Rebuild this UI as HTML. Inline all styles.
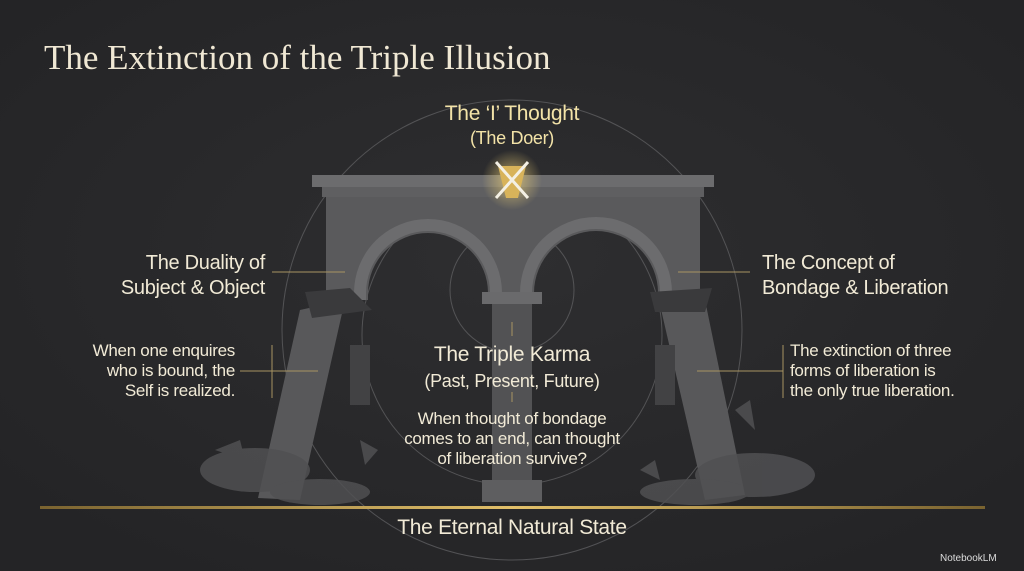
<!DOCTYPE html>
<html><head><style>
html,body{margin:0;padding:0;background:#29292b;}
body{width:1024px;height:571px;position:relative;overflow:hidden;font-family:"Liberation Sans",sans-serif;}
.t{position:absolute;color:#f1ead6;letter-spacing:-0.3px;}
</style></head><body>
<svg width="1024" height="571" style="position:absolute;left:0;top:0">
<defs>
<radialGradient id="bg" cx="50%" cy="45%" r="65%"><stop offset="0" stop-color="#2e2e30"/><stop offset="1" stop-color="#242426"/></radialGradient>
<linearGradient id="gold" x1="0" x2="1"><stop offset="0" stop-color="#7a6330"/><stop offset=".5" stop-color="#e2c06a"/><stop offset="1" stop-color="#7a6330"/></linearGradient>
<radialGradient id="glow"><stop offset="0" stop-color="#f5d77a" stop-opacity=".7"/><stop offset="1" stop-color="#f5d77a" stop-opacity="0"/></radialGradient>
</defs>
<rect width="1024" height="571" fill="url(#bg)"/>
<g fill="none" stroke="#5e5e60" stroke-width="1" opacity=".8">
<circle cx="512" cy="330" r="230"/>
<circle cx="512" cy="335" r="150"/>
<circle cx="512" cy="290" r="62"/>
</g>
<path fill-rule="evenodd" fill="#5a5a5c" d="M326 186 H700 V300 H326 Z M368 300 V293 A60 60 0 0 1 488 293 V300 Z M534 300 V293 A62 62 0 0 1 658 293 V300 Z"/>
<path d="M360 300 V293 A68 68 0 0 1 496 293 V300" stroke="#6c6c6e" stroke-width="12" fill="none"/>
<path d="M526 300 V293 A70 70 0 0 1 666 293 V300" stroke="#6c6c6e" stroke-width="12" fill="none"/>
<rect x="312" y="175" width="402" height="12" fill="#6c6c6e"/>
<rect x="322" y="187" width="382" height="10" fill="#5f5f61"/>
<rect x="482" y="292" width="60" height="12" fill="#6a6a6c"/>
<rect x="492" y="304" width="40" height="180" fill="#525254"/>
<rect x="482" y="480" width="60" height="22" fill="#5e5e60"/>
<polygon points="300,310 345,300 300,500 258,498" fill="#58585a"/>
<polygon points="305,292 350,288 372,310 312,318" fill="#3a3a3c"/>
<rect x="350" y="345" width="20" height="60" fill="#424244"/>
<polygon points="660,305 705,300 745,495 705,500" fill="#58585a"/>
<polygon points="650,292 712,288 705,312 655,312" fill="#3a3a3c"/>
<rect x="655" y="345" width="20" height="60" fill="#424244"/>
<g fill="#505052" opacity=".85">
<ellipse cx="255" cy="470" rx="55" ry="22"/><ellipse cx="320" cy="492" rx="50" ry="13"/>
<ellipse cx="755" cy="475" rx="60" ry="22"/><ellipse cx="695" cy="492" rx="55" ry="13"/>
<polygon points="215,450 240,440 245,460"/><polygon points="360,440 378,450 365,465"/>
<polygon points="735,410 750,400 755,430"/><polygon points="640,470 655,460 660,480"/>
</g>
<circle cx="512" cy="180" r="30" fill="url(#glow)"/>
<polygon points="498,166 526,166 518,198 506,198" fill="#d8b35a"/>
<path d="M496 162 L528 198 M528 162 L496 198" stroke="#f4f0e4" stroke-width="3"/>
<g stroke="#a89462" stroke-width="1">
<line x1="272" y1="272" x2="345" y2="272"/>
<line x1="678" y1="272" x2="750" y2="272"/>
<line x1="240" y1="371" x2="318" y2="371"/><line x1="272" y1="345" x2="272" y2="398"/>
<line x1="697" y1="371" x2="783" y2="371"/><line x1="783" y1="345" x2="783" y2="398"/>
<line x1="512" y1="322" x2="512" y2="336"/><line x1="512" y1="392" x2="512" y2="402"/>
</g>
<rect x="40" y="506" width="945" height="3" fill="url(#gold)"/>
</svg>
<div class="t" style="left:44px;top:38px;font-family:'Liberation Serif',serif;font-size:35px;color:#f0e8d4;letter-spacing:0">The Extinction of the Triple Illusion</div>
<div class="t" style="left:402px;top:102px;width:220px;text-align:center;font-size:21px;color:#f3e3a8;line-height:24px">The ‘I’ Thought<br><span style="font-size:18px">(The Doer)</span></div>
<div class="t" style="left:80px;top:251px;width:185px;text-align:right;font-size:20px;line-height:25px">The Duality of<br>Subject &amp; Object</div>
<div class="t" style="left:762px;top:251px;width:240px;font-size:20px;line-height:25px">The Concept of<br>Bondage &amp; Liberation</div>
<div class="t" style="left:40px;top:341px;width:195px;text-align:right;font-size:17px;line-height:20px">When one enquires<br>who is bound, the<br>Self is realized.</div>
<div class="t" style="left:790px;top:341px;width:220px;font-size:17px;line-height:20px">The extinction of three<br>forms of liberation is<br>the only true liberation.</div>
<div class="t" style="left:382px;top:342px;width:260px;text-align:center;font-size:21px;line-height:26px">The Triple Karma<br><span style="font-size:18px">(Past, Present, Future)</span></div>
<div class="t" style="left:372px;top:409px;width:280px;text-align:center;font-size:17px;line-height:20px">When thought of bondage<br>comes to an end, can thought<br>of liberation survive?</div>
<div class="t" style="left:352px;top:516px;width:320px;text-align:center;font-size:21px">The Eternal Natural State</div>
<div class="t" style="left:940px;top:553px;font-size:10px;color:#ddd;letter-spacing:0">NotebookLM</div>
</body></html>
